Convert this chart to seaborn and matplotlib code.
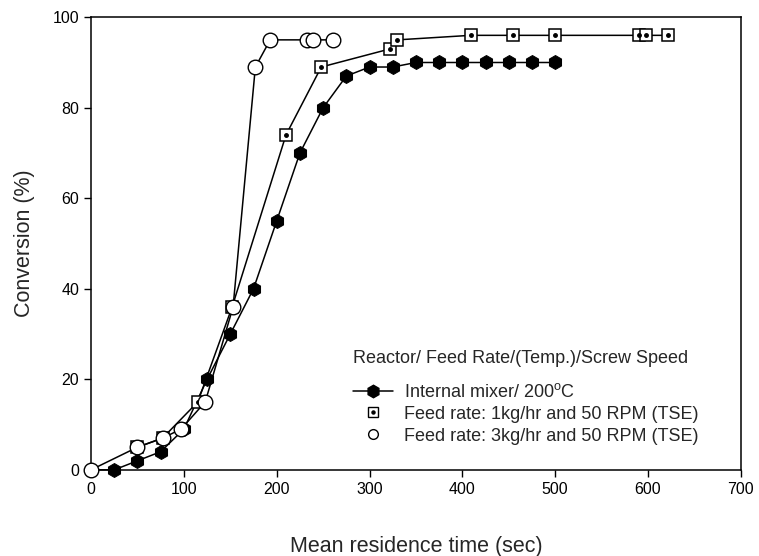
"""Conversion vs mean residence time for the internal mixer and the TSE runs."""

import matplotlib
matplotlib.use("Agg")
import matplotlib.pyplot as plt
from matplotlib.legend_handler import HandlerTuple
from matplotlib.lines import Line2D
import seaborn as sns

# Internal mixer / 200 C
mixer_time = [0, 25, 50, 75, 100, 125, 150, 175, 200, 225, 250, 275, 300,
              325, 350, 375, 400, 425, 450, 475, 500]
mixer_conv = [0, 0, 2, 4, 9, 20, 30, 40, 55, 70, 80, 87, 89,
              89, 90, 90, 90, 90, 90, 90, 90]

# Feed rate 1 kg/hr, 50 RPM (TSE)
tse1_time = [50, 77, 115, 152, 210, 248, 322, 330, 409, 455, 500, 590, 598, 622]
tse1_conv = [5, 7, 15, 36, 74, 89, 93, 95, 96, 96, 96, 96, 96, 96]

# Feed rate 3 kg/hr, 50 RPM (TSE)
tse3_time = [0, 50, 77, 97, 123, 153, 177, 193, 233, 239, 261]
tse3_conv = [0, 5, 7, 9, 15, 36, 89, 95, 95, 95, 95]

x_ticks = [0, 100, 200, 300, 400, 500, 600, 700]
y_ticks = [0, 20, 40, 60, 80, 100]

sns.set_style("ticks")
plt.rcParams["font.family"] = ["Liberation Sans", "DejaVu Sans"]
plt.rcParams["mathtext.fontset"] = "custom"
plt.rcParams["mathtext.rm"] = "Liberation Sans"

fig = plt.figure(figsize=(7.59, 5.56), dpi=100)
ax = fig.add_axes([0.12, 0.155, 0.856, 0.814])

line_kw = dict(color="black", linewidth=1.1, estimator=None, ax=ax,
               clip_on=False)

sns.lineplot(x=mixer_time, y=mixer_conv, marker="h", markersize=10,
             markerfacecolor="black", markeredgecolor="black", zorder=3,
             **line_kw)
sns.lineplot(x=tse1_time, y=tse1_conv, marker="s", markersize=8,
             markerfacecolor="white", markeredgecolor="black",
             markeredgewidth=1.1, zorder=3, **line_kw)
# small dot in the middle of each square
ax.plot(tse1_time, tse1_conv, linestyle="none", marker="o", markersize=2.5,
        color="black", zorder=3.1)
sns.lineplot(x=tse3_time, y=tse3_conv, marker="o", markersize=10.5,
             markerfacecolor="white", markeredgecolor="black",
             markeredgewidth=1.0, zorder=3.5, **line_kw)

ax.set_xlim(0, 700)
ax.set_ylim(0, 100)
ax.set_xticks(x_ticks)
ax.set_yticks(y_ticks)
ax.tick_params(labelsize=11.5, direction="out", length=5, width=1,
               color="black", labelcolor="black")
for side in ax.spines.values():
    side.set_color("black")
    side.set_linewidth(1.1)

ax.set_xlabel("Mean residence time (sec)", fontsize=15.5, labelpad=28)
ax.set_ylabel("Conversion (%)", fontsize=15.5, labelpad=13)

# legend: title drawn separately so the gap under it can be wider
ax.text(0.403, 0.247, "Reactor/ Feed Rate/(Temp.)/Screw Speed",
        transform=ax.transAxes, fontsize=13, va="center", ha="left")

h_mixer = Line2D([], [], color="black", linewidth=1.1, marker="h",
                 markersize=9, markerfacecolor="black")
h_sq = Line2D([], [], linestyle="none", marker="s", markersize=7,
              markerfacecolor="white", markeredgecolor="black")
h_dot = Line2D([], [], linestyle="none", marker="o", markersize=2.2,
               color="black")
h_circ = Line2D([], [], linestyle="none", marker="o", markersize=7,
                markerfacecolor="white", markeredgecolor="black")

ax.legend(
    [h_mixer, (h_sq, h_dot), h_circ],
    ["Internal mixer/ 200$^{\\rm o}$C",
     "Feed rate: 1kg/hr and 50 RPM (TSE)",
     "Feed rate: 3kg/hr and 50 RPM (TSE)"],
    handler_map={tuple: HandlerTuple(ndivide=1, pad=0)},
    fontsize=13, frameon=False, borderpad=0, borderaxespad=0,
    loc="upper left", bbox_to_anchor=(0.403, 0.192),
    handlelength=2.2, handletextpad=0.65, labelspacing=0.27,
)

fig.savefig("out.png", dpi=100)
